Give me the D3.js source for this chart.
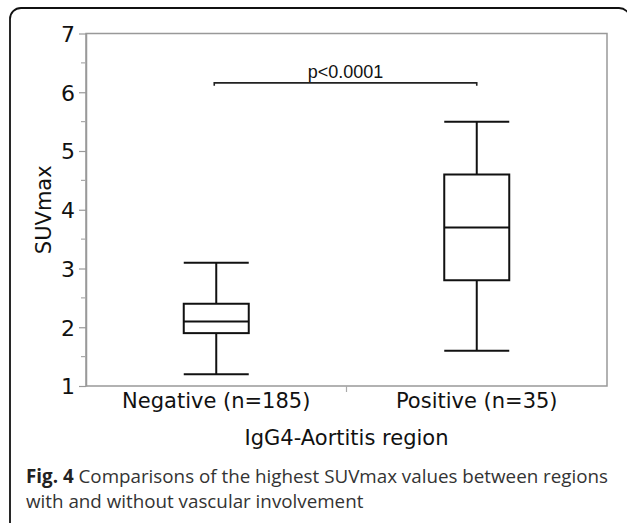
<!DOCTYPE html>
<html>
<head>
<meta charset="utf-8">
<script src="https://cdn.jsdelivr.net/npm/d3@7"></script>
<style>
  body { margin: 0; background: #fff; }
</style>
</head>
<body>
<div id="chart"></div>
<script>
// box plot data
const categories = ['Negative (n=185)', 'Positive (n=35)']
const mins = [1.2, 1.6]
const q1s = [1.9, 2.8]
const medians = [2.1, 3.7]
const q3s = [2.4, 4.6]
const maxs = [3.1, 5.5]
const yTicks = [1, 2, 3, 4, 5, 6, 7]
const pText = 'p<0.0001'
const pLevel = 6.16

const width = 627, height = 523
const margin = {top: 33.5, left: 86, right: 20, bottom: 137}
const plotW = 607 - margin.left
const plotH = 386 - margin.top

let svg = d3.select('#chart').append('svg')
  .attr('width', width)
  .attr('height', height)

// outer rounded frame (runs off the right/bottom edge)
svg.append('rect')
  .attr('x', 10).attr('y', 8)
  .attr('width', 620).attr('height', 540)
  .attr('rx', 11)
  .attr('fill', 'none')
  .attr('stroke', '#111')
  .attr('stroke-width', 1.8)

let g = svg.append('g').attr('transform', 'translate(' + margin.left + ',' + margin.top + ')')

let x = d3.scaleBand().domain(categories).range([0, plotW])
let y = d3.scaleLinear().domain([1, 7]).range([plotH, 0])

let boxes = categories.map(function(c, i) {
  return {cat: c, min: mins[i], q1: q1s[i], med: medians[i], q3: q3s[i], max: maxs[i]}
})

// plot frame
g.append('rect')
  .attr('width', plotW).attr('height', plotH)
  .attr('fill', 'none')
  .attr('stroke', '#999')
  .attr('stroke-width', 1.5)

// y axis
let yAxis = g.append('g')
  .call(d3.axisLeft(y).tickValues(yTicks).tickFormat(d3.format('d')).tickSize(7).tickSizeOuter(0))
yAxis.select('.domain').attr('stroke', '#999').attr('stroke-width', 1.5)
yAxis.selectAll('.tick line').attr('stroke', '#999').attr('stroke-width', 1.2)
yAxis.selectAll('.tick text')
  .attr('font-family', 'DejaVu Sans, Verdana, sans-serif')
  .attr('font-size', 22)
  .attr('fill', '#111')
  .attr('x', -11)
  .attr('dy', '0.36em')

// minor ticks at halves
g.append('g').selectAll('line')
  .data(d3.range(1.5, 7, 1))
  .enter().append('line')
  .attr('x1', -5).attr('x2', 0)
  .attr('y1', function(d) { return y(d) }).attr('y2', function(d) { return y(d) })
  .attr('stroke', '#aaa').attr('stroke-width', 1.2)

// x axis: tick at band boundary, labels at centers
g.append('line')
  .attr('x1', x(categories[1])).attr('x2', x(categories[1]))
  .attr('y1', plotH).attr('y2', plotH + 6)
  .attr('stroke', '#aaa').attr('stroke-width', 1.2)

g.selectAll('.xlab')
  .data(categories)
  .enter().append('text')
  .attr('class', 'xlab')
  .attr('x', function(d) { return x(d) + x.bandwidth() / 2 })
  .attr('y', plotH + 22)
  .attr('text-anchor', 'middle')
  .attr('font-family', 'DejaVu Sans, Verdana, sans-serif')
  .attr('font-size', 21)
  .attr('fill', '#111')
  .text(function(d) { return d })

// axis titles
g.append('text')
  .attr('x', plotW / 2)
  .attr('y', plotH + 59)
  .attr('text-anchor', 'middle')
  .attr('font-family', 'DejaVu Sans, Verdana, sans-serif')
  .attr('font-size', 21)
  .attr('fill', '#111')
  .text('IgG4-Aortitis region')

g.append('text')
  .attr('transform', 'translate(' + (-35) + ',' + (plotH / 2) + ') rotate(-90)')
  .attr('text-anchor', 'middle')
  .attr('font-family', 'DejaVu Sans, Verdana, sans-serif')
  .attr('font-size', 21)
  .attr('fill', '#111')
  .text('SUVmax')

// boxes
let boxW = 65
let bx = g.selectAll('.box')
  .data(boxes)
  .enter().append('g')
  .attr('class', 'box')
  .attr('transform', function(d) { return 'translate(' + (x(d.cat) + x.bandwidth() / 2) + ',0)' })

bx.append('line')
  .attr('x1', 0).attr('x2', 0)
  .attr('y1', function(d) { return y(d.max) })
  .attr('y2', function(d) { return y(d.q3) })
bx.append('line')
  .attr('x1', 0).attr('x2', 0)
  .attr('y1', function(d) { return y(d.q1) })
  .attr('y2', function(d) { return y(d.min) })
bx.append('line')
  .attr('x1', -boxW / 2).attr('x2', boxW / 2)
  .attr('y1', function(d) { return y(d.max) }).attr('y2', function(d) { return y(d.max) })
bx.append('line')
  .attr('x1', -boxW / 2).attr('x2', boxW / 2)
  .attr('y1', function(d) { return y(d.min) }).attr('y2', function(d) { return y(d.min) })
bx.append('rect')
  .attr('x', -boxW / 2).attr('width', boxW)
  .attr('y', function(d) { return y(d.q3) })
  .attr('height', function(d) { return y(d.q1) - y(d.q3) })
  .attr('fill', 'none')
bx.append('line')
  .attr('x1', -boxW / 2).attr('x2', boxW / 2)
  .attr('y1', function(d) { return y(d.med) }).attr('y2', function(d) { return y(d.med) })
bx.selectAll('line, rect')
  .attr('stroke', '#111')
  .attr('stroke-width', 2)

// significance bracket
let px1 = x(categories[0]) + x.bandwidth() / 2 - 2
let px2 = x(categories[1]) + x.bandwidth() / 2
g.append('path')
  .attr('d', 'M' + px1 + ',' + (y(pLevel) + 3) + 'V' + y(pLevel) + 'H' + px2 + 'V' + (y(pLevel) + 3))
  .attr('fill', 'none')
  .attr('stroke', '#222')
  .attr('stroke-width', 1.6)
g.append('text')
  .attr('x', (px1 + px2) / 2)
  .attr('y', y(pLevel) - 5)
  .attr('text-anchor', 'middle')
  .attr('font-family', 'Liberation Sans, Arial, sans-serif')
  .attr('font-size', 18)
  .attr('fill', '#111')
  .text(pText)

// caption
let cap = svg.append('text')
  .attr('font-family', 'Open Sans, Noto Sans, sans-serif')
  .attr('font-size', 18.8)
  .attr('fill', '#333')
cap.append('tspan')
  .attr('x', 26).attr('y', 483)
  .attr('font-weight', 'bold')
  .attr('fill', '#222')
  .text('Fig. 4')
cap.append('tspan')
  .text(' Comparisons of the highest SUVmax values between regions')
cap.append('tspan')
  .attr('x', 26).attr('y', 508)
  .text('with and without vascular involvement')
</script>
</body>
</html>
